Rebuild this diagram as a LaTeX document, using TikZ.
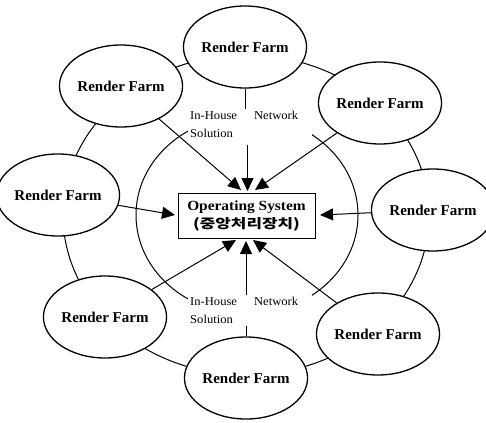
\documentclass[tikz,border=0pt]{standalone}
\usepackage{fontspec}
\setmainfont{Liberation Serif}
\newfontfamily\krfont{Noto Sans CJK KR}[FakeStretch=1.3]
\newfontfamily\labfont{Liberation Serif}[FakeStretch=1.05]
\newfontfamily\osfont{Liberation Serif}[FakeStretch=1.1]
\usetikzlibrary{shapes.geometric,arrows.meta}
\begin{document}
\begin{tikzpicture}[x=1pt,y=-1pt,
  farm/.style={ellipse, draw, line width=1.3pt, fill=white,
    minimum width=92pt, minimum height=82pt, inner sep=0pt,
    font=\bfseries\fontsize{15}{17}\selectfont},
  ring/.style={line width=1pt},
  link/.style={line width=1pt},
  arr/.style={line width=1pt, -{Triangle[length=13pt,width=12pt]}},
  netlabel/.style={fill=white, inner sep=2pt, align=left, text width=120pt,
    anchor=north west, font=\labfont\fontsize{12}{18}\selectfont},
  osbox/.style={draw, line width=1pt, fill=white, minimum width=137pt,
    minimum height=45pt, align=center, inner sep=1pt,
    font=\fontsize{14}{18}\selectfont}]
\useasboundingbox (0,0) rectangle (486,422);
% rings
\draw[ring] (246,215) ellipse [x radius=183, y radius=160];
\draw[ring] (247,215) ellipse [x radius=111, y radius=99];
% render farms
\node[farm] (top) at (245,47)  {Render Farm};
\node[farm] (ul)  at (121,86)  {Render Farm};
\node[farm] (ur)  at (380,103) {Render Farm};
\node[farm] (l)   at (58,195)  {Render Farm};
\node[farm] (r)   at (433,210) {Render Farm};
\node[farm] (ll)  at (105,317) {Render Farm};
\node[farm] (lr)  at (378,334) {Render Farm};
\node[farm] (b)   at (246,378) {Render Farm};
% network labels
\node[netlabel] (nt) at (188,109) {In-House\hspace{17pt}Network\\Solution};
\node[netlabel] (nb) at (188,295) {In-House\hspace{17pt}Network\\Solution};
% central box
\node[osbox] (os) at (246.5,215.5)
  {{\osfont\bfseries Operating System}\\{\krfont\bfseries\fontsize{13}{18}\selectfont (중앙처리장치)}};
% arrow tips
\coordinate (tUL) at (241,190);
\coordinate (tT)  at (247.5,191);
\coordinate (tUR) at (255,190);
\coordinate (tL)  at (175,215);
\coordinate (tR)  at (320,215);
\coordinate (tLL) at (236,240);
\coordinate (tB)  at (246,241);
\coordinate (tLR) at (253,240);
% connectors
\draw[link] (top) -- (top.south |- nt.north);
\draw[arr] ([yshift=-5pt]tT |- nt.south) -- (tT);
\draw[arr] (ul) -- (tUL);
\draw[arr] (ur) -- (tUR);
\draw[arr] (l) -- (tL);
\draw[arr] (r) -- (tR);
\draw[arr] (ll) -- (tLL);
\draw[arr] (lr) -- (tLR);
\draw[arr] (tB |- nb.north) -- (tB);
\draw[link] (b) -- (b.north |- nb.south);
\end{tikzpicture}
\end{document}
